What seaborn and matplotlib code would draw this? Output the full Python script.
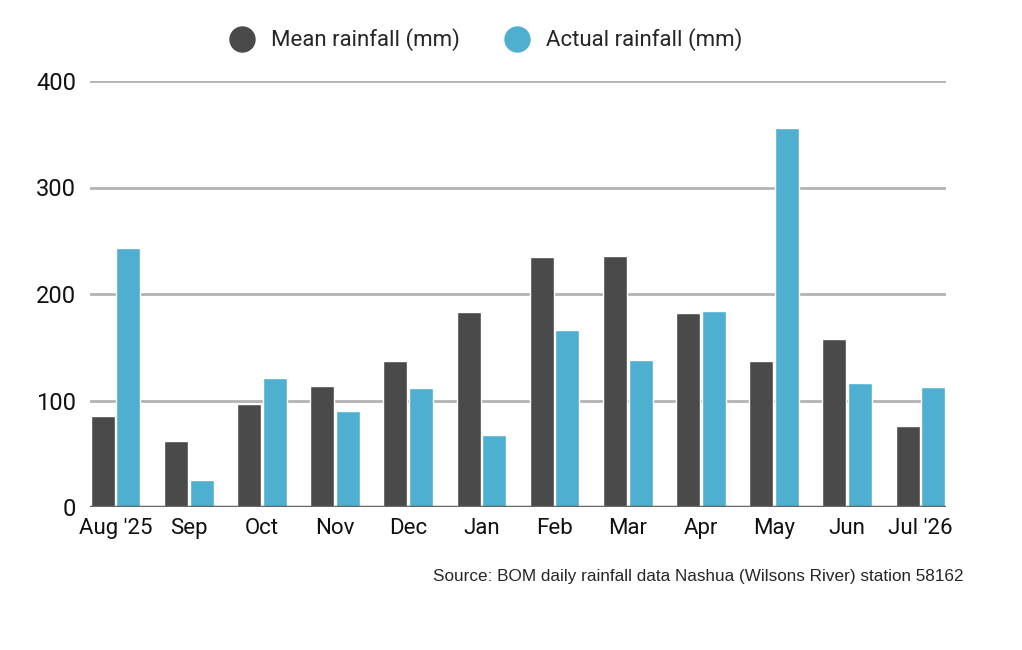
import pandas as pd
import matplotlib.pyplot as plt
import seaborn as sns
from matplotlib.lines import Line2D

# ---- data ----
months = ["Aug '25", "Sep", "Oct", "Nov", "Dec", "Jan", "Feb", "Mar", "Apr", "May", "Jun", "Jul '26"]
mean_rain = [85, 62, 97, 114, 137, 183, 235, 236, 182, 137, 158, 76]
actual_rain = [243, 25, 121, 90, 112, 68, 166, 138, 184, 356, 116, 113]
series = ["Mean rainfall (mm)", "Actual rainfall (mm)"]
colors = ["#4a4a4a", "#4eafd0"]
yticks = [0, 100, 200, 300, 400]

df = pd.DataFrame({"month": months * 2,
                   "series": [series[0]] * len(months) + [series[1]] * len(months),
                   "value": mean_rain + actual_rain})

sns.set_style("white")
plt.rcParams["font.family"] = ["Roboto", "DejaVu Sans"]

fig = plt.figure(figsize=(10.22, 6.5), dpi=100)
ax = fig.add_axes([90 / 1022, 1 - 507 / 650, (946 - 90) / 1022, (507 - 81) / 650])

sns.barplot(data=df, x="month", y="value", hue="series", palette=colors,
            width=0.7, gap=0.06, ax=ax, legend=False, saturation=1)

ax.set_ylim(0, 400)
ax.set_xlim(-0.35, len(months) - 1 + 0.35)
ax.set_yticks(yticks)
ax.yaxis.grid(True, color="#b3b3b3", linewidth=2)
ax.set_axisbelow(True)
for s in ax.spines.values():
    s.set_visible(False)
ax.axhline(0, color="#666666", linewidth=2.5, zorder=3)
ax.set_xlabel("")
ax.set_ylabel("")
ax.tick_params(axis="both", length=0, labelsize=16, colors="#111111")
ax.tick_params(axis="y", labelsize=17, pad=10)
ax.tick_params(axis="x", pad=8)

handles = [Line2D([], [], marker="o", linestyle="", markersize=18, color=c) for c in colors]
fig.legend(handles, series, loc="center", bbox_to_anchor=(481 / 1022, 1 - 40 / 650),
           ncol=2, frameon=False, fontsize=16, handletextpad=0.3, columnspacing=1.6)

fig.text(963 / 1022, 1 - 577 / 650,
         "Source: BOM daily rainfall data Nashua (Wilsons River) station 58162",
         ha="right", va="center", fontsize=12.3, family="Liberation Sans")

fig.savefig("out.png", dpi=100)
